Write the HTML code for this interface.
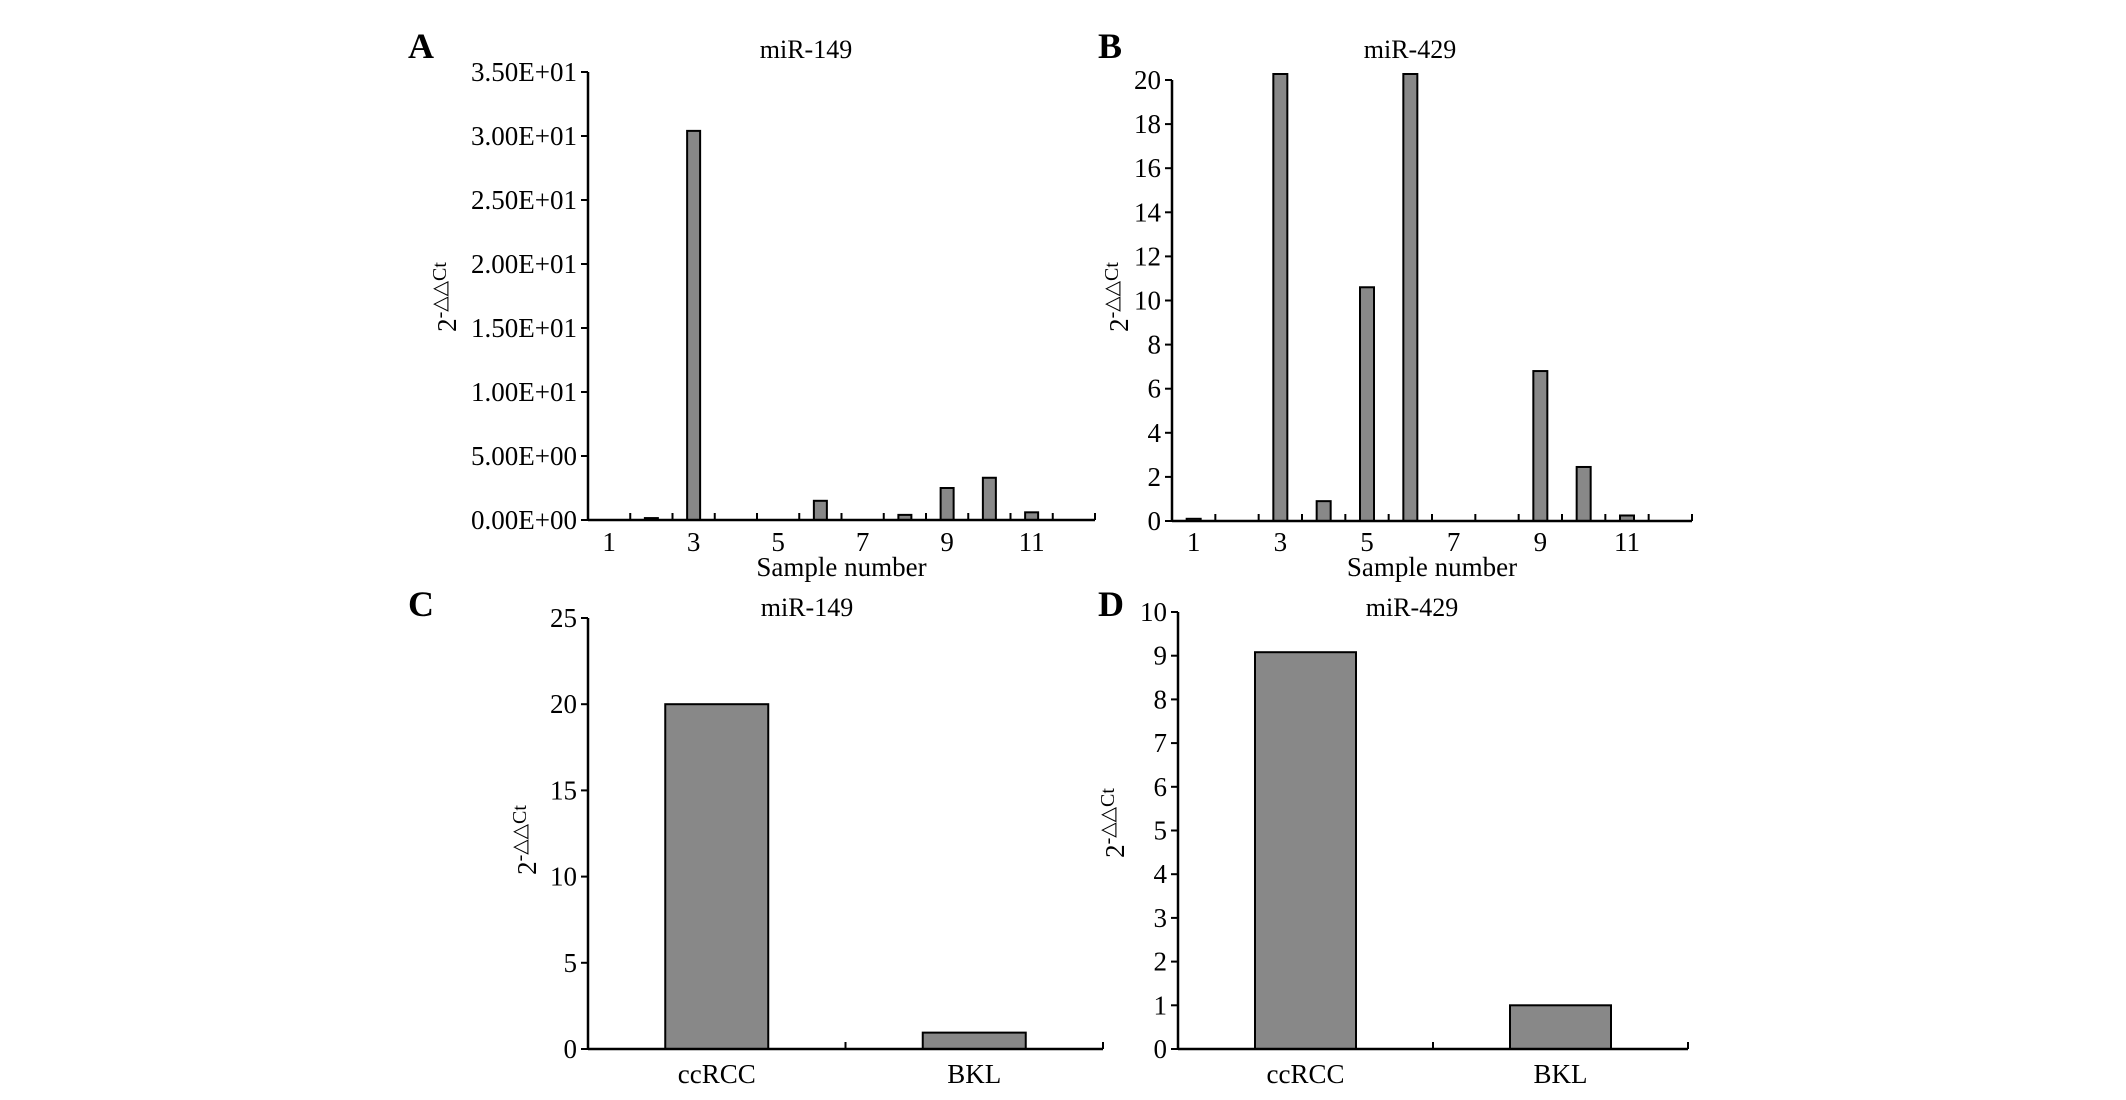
<!DOCTYPE html>
<html><head><meta charset="utf-8"><style>
html,body{margin:0;padding:0;background:#fff;}
svg{display:block;font-family:"Liberation Serif",serif;}
</style></head><body>
<svg id="fig" width="2126" height="1100" viewBox="0 0 2126 1100"></svg>
<script>
const samplesCats = ["1","2","3","4","5","6","7","8","9","10","11","12"];
const sampleTickLabels = ["1","3","5","7","9","11"];
const miR149Values = [0, 0.15, 30.4, 0, 0, 1.5, 0, 0.4, 2.5, 3.3, 0.6, 0];
const miR149Ticks = [0,5,10,15,20,25,30,35];
const miR149TickLabels = ["0.00E+00","5.00E+00","1.00E+01","1.50E+01","2.00E+01","2.50E+01","3.00E+01","3.50E+01"];
const miR429Values = [0.1, 0, 20.3, 0.9, 10.6, 20.3, 0, 0, 6.8, 2.45, 0.25, 0];
const miR429Ticks = [0,2,4,6,8,10,12,14,16,18,20];
const groupCats = ["ccRCC","BKL"];
const groupC149 = [20, 0.95];
const groupCTicks = [0,5,10,15,20,25];
const groupD429 = [9.08, 1.0];
const groupDTicks = [0,1,2,3,4,5,6,7,8,9,10];

const NS="http://www.w3.org/2000/svg";
const svg=document.getElementById('fig');
function mk(tag,attrs,parent,name){const e=document.createElementNS(NS,tag);for(const k in attrs)e.setAttribute(k,attrs[k]);(parent||svg).appendChild(e);


return e;}
function txt(s,x,y,size,anchor,parent,name,extra){const t=mk('text',Object.assign({x:x,y:y,'font-size':size,'text-anchor':anchor||'middle',fill:'#000'},extra||{}),parent,name);t.textContent=s;return t;}

function panel(o){
  const g=mk('g',{},svg,o.name);
  const ys=v=>o.y0-(v-o.vmin)/(o.vmax-o.vmin)*(o.y0-o.yTop);
  const n=o.cats.length, bw=(o.x1-o.x0)/n;
  const xs=i=>o.x0+bw*(i+0.5);
  const clipTop=o.clipTop!==undefined?o.clipTop:-1e9;
  o.values.forEach((v,i)=>{
    if(v<=0) return;
    let y=Math.max(ys(v),clipTop);
    mk('rect',{x:xs(i)-o.barW/2,y:y,width:o.barW,height:o.y0-y,fill:'#888',stroke:'#000','stroke-width':2},g,'bar-'+o.cats[i]);
  });
  mk('line',{x1:o.x0,y1:o.y0,x2:o.x0,y2:o.yTop,stroke:'#000','stroke-width':2.5},g,'y-axis');
  mk('line',{x1:o.x0,y1:o.y0,x2:o.x1,y2:o.y0,stroke:'#000','stroke-width':2.5},g,'x-axis');
  o.ticks.forEach((t,i)=>{
    const y=ys(t);
    mk('line',{x1:o.x0-7,y1:y,x2:o.x0,y2:y,stroke:'#000','stroke-width':2},g,'y-tick');
    txt(o.tickLabels?o.tickLabels[i]:String(t),o.x0-11,y+9,o.tickSize,'end',g,'y-tick-label');
  });
  for(let i=1;i<=n;i++){const x=o.x0+bw*i;mk('line',{x1:x,y1:o.y0,x2:x,y2:o.y0-7,stroke:'#000','stroke-width':2},g,'x-tick');}
  if(o.xLabels){o.xLabels.forEach(l=>{const i=o.cats.indexOf(l);txt(l,xs(i),o.xLabY,27,'middle',g,'x-tick-label');});}
  txt(o.title,o.titleX,o.titleY,26,'middle',g,'chart-title');
  txt(o.letter,o.letterX,o.titleY,36,'start',g,'panel-label',{'font-weight':'bold'});
  if(o.xTitle) txt(o.xTitle,(o.x0+o.x1)/2,576,27,'middle',g,'x-axis-title');
  const yt=mk('text',{x:0,y:0,'font-size':27,'text-anchor':'middle',fill:'#000',transform:`translate(${o.ytX},${o.ytY}) rotate(-90)`},g,'y-axis-title');
  yt.textContent='2';
  const sp=document.createElementNS(NS,'tspan');sp.setAttribute('dy','-10');sp.setAttribute('font-size','20');sp.textContent='-\u25B3\u25B3Ct';yt.appendChild(sp);
}
panel({name:'chart-a',cats:samplesCats,values:miR149Values,ticks:miR149Ticks,tickLabels:miR149TickLabels,vmin:0,vmax:35,
  x0:588,x1:1095,y0:520,yTop:72,barW:13,tickSize:27,xLabels:sampleTickLabels,xLabY:551,xTitle:'Sample number',
  title:'miR-149',titleX:806,titleY:58,letter:'A',letterX:408,ytX:456,ytY:297});
panel({name:'chart-b',cats:samplesCats,values:miR429Values,ticks:miR429Ticks,vmin:0,vmax:20,clipTop:74,
  x0:1172,x1:1692,y0:521,yTop:80,barW:14,tickSize:27,xLabels:sampleTickLabels,xLabY:551,xTitle:'Sample number',
  title:'miR-429',titleX:1410,titleY:58,letter:'B',letterX:1098,ytX:1128,ytY:297});
panel({name:'chart-c',cats:groupCats,values:groupC149,ticks:groupCTicks,vmin:0,vmax:25,
  x0:588,x1:1103,y0:1049,yTop:618,barW:103,tickSize:27,xLabels:groupCats,xLabY:1083,
  title:'miR-149',titleX:807,titleY:616,letter:'C',letterX:408,ytX:536,ytY:840});
panel({name:'chart-d',cats:groupCats,values:groupD429,ticks:groupDTicks,vmin:0,vmax:10,
  x0:1178,x1:1688,y0:1049,yTop:612,barW:101,tickSize:27,xLabels:groupCats,xLabY:1083,
  title:'miR-429',titleX:1412,titleY:616,letter:'D',letterX:1098,ytX:1124,ytY:823});
</script>
</body></html>
